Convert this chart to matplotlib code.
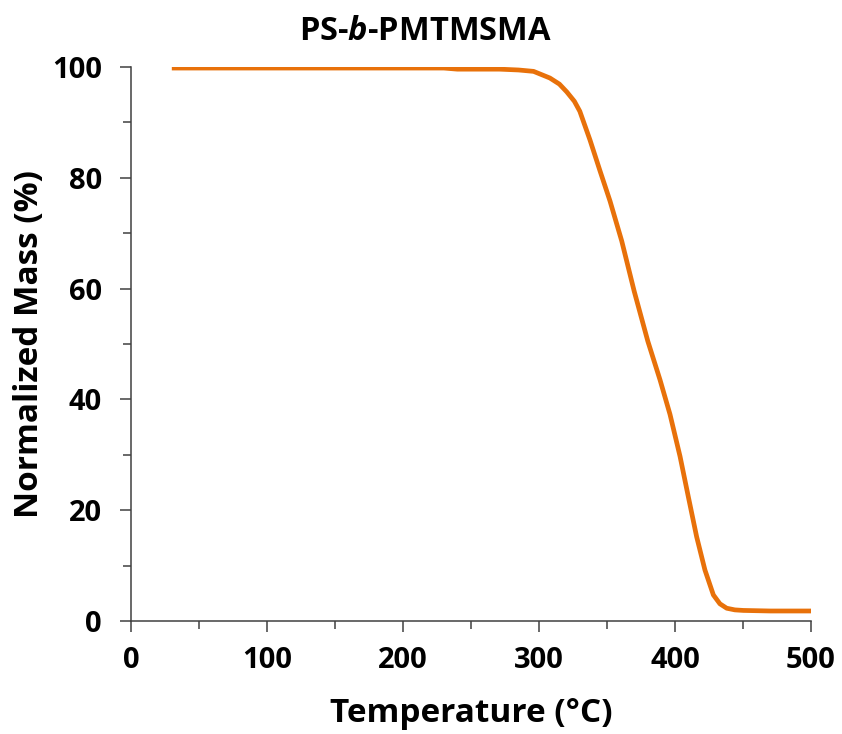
import matplotlib
matplotlib.use("Agg")
import matplotlib.pyplot as plt
from matplotlib.ticker import MultipleLocator

temperature = [30, 100, 200, 230, 240, 271, 285, 296, 308, 315, 320.4, 326, 330, 337.5, 344.9,
               352.2, 360.8, 370, 380, 389, 396.3, 403.7, 409.8, 415.9, 422, 428.2, 433,
               438, 444, 450.2, 470, 500]
mass = [99.8, 99.8, 99.8, 99.8, 99.6, 99.6, 99.45, 99.2, 98.0, 96.9, 95.5, 93.8, 92.0, 86.8, 81.2,
        75.8, 68.6, 59.5, 50.5, 43.5, 37.3, 29.7, 22.4, 15.2, 9.2, 4.7, 3.1,
        2.3, 2.0, 1.9, 1.8, 1.8]

title = "PS-$\\mathit{b}$-PMTMSMA"
xlabel = "Temperature (°C)"
ylabel = "Normalized Mass (%)"

plt.rcParams['font.family'] = ['Open Sans', 'DejaVu Sans']
plt.rcParams['mathtext.fontset'] = 'custom'
plt.rcParams['mathtext.it'] = 'Open Sans:italic:bold'
plt.rcParams['mathtext.rm'] = 'Open Sans:bold'

fig = plt.figure(figsize=(8.42, 7.34), dpi=100)
ax = fig.add_axes([0.1556, 0.1540, 0.8076, 0.7548])
ax.plot(temperature, mass, color='#E8710A', lw=3.4, solid_capstyle='butt',
        solid_joinstyle='round')

ax.set_xlim(0, 500)
ax.set_ylim(0, 100)
ax.xaxis.set_major_locator(MultipleLocator(100))
ax.xaxis.set_minor_locator(MultipleLocator(50))
ax.yaxis.set_major_locator(MultipleLocator(20))
ax.yaxis.set_minor_locator(MultipleLocator(10))

for s in ['top', 'right']:
    ax.spines[s].set_visible(False)
for s in ['left', 'bottom']:
    ax.spines[s].set_color('#404040')
    ax.spines[s].set_linewidth(1.1)

ax.tick_params(which='major', direction='out', length=8, width=1.1, color='#404040',
               labelsize=21)
ax.tick_params(which='minor', direction='out', length=5.5, width=1.1, color='#404040')
ax.tick_params(axis='y', which='major', pad=13)
ax.tick_params(axis='x', which='major', pad=10)
for lab in ax.get_xticklabels() + ax.get_yticklabels():
    lab.set_fontweight('bold')

ax.set_xlabel(xlabel, fontsize=24, fontweight='bold', labelpad=16)
ax.set_ylabel(ylabel, fontsize=24, fontweight='bold', labelpad=4)
fig.text(0.505, 1 - 40 / 734, title, fontsize=23.5, fontweight='bold',
         ha='center', va='baseline')

fig.savefig("out.png", dpi=100)
